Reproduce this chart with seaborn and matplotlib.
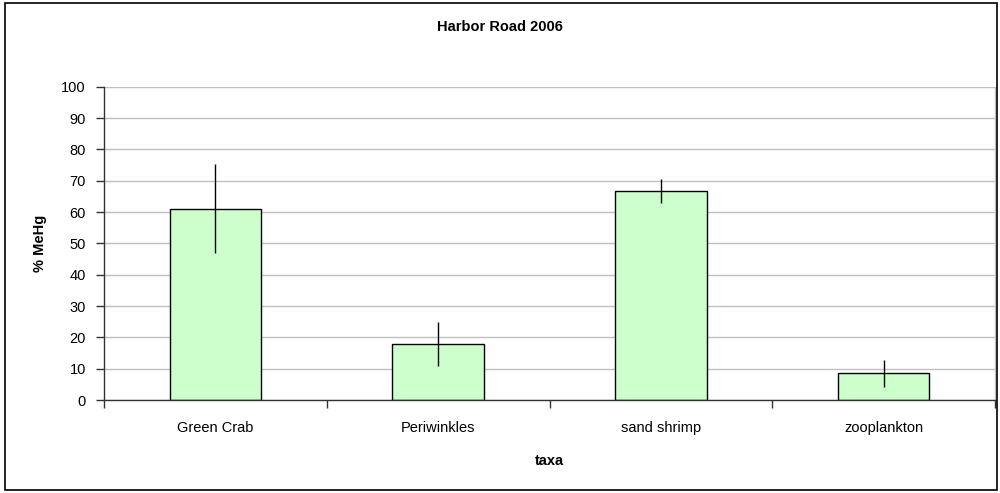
import numpy as np
import pandas as pd
import matplotlib
matplotlib.use("Agg")
import matplotlib.pyplot as plt
import seaborn as sns
from matplotlib.patches import Rectangle

# values
taxa = ["Green Crab", "Periwinkles", "sand shrimp", "zooplankton"]
pct_mehg = [61.1, 17.8, 66.7, 8.5]
err = [14.1, 7.0, 3.7, 4.3]
y_ticks = [0, 10, 20, 30, 40, 50, 60, 70, 80, 90, 100]

df = pd.DataFrame({"taxa": taxa, "pct": pct_mehg})

sns.set_theme(style="white")
plt.rcParams["font.family"] = ["Liberation Sans", "DejaVu Sans"]
plt.rcParams["text.color"] = "black"
plt.rcParams["xtick.color"] = "black"
plt.rcParams["ytick.color"] = "black"
plt.rcParams["axes.labelcolor"] = "black"

fig = plt.figure(figsize=(10, 4.93), dpi=100)
ax = fig.add_axes([0.104, 0.1886, 0.891, 0.6355])

sns.barplot(data=df, x="taxa", y="pct", color="#CCFFCC", saturation=1,
            edgecolor="black", linewidth=1, width=0.41, errorbar=None, ax=ax)
ax.errorbar(np.arange(len(taxa)), pct_mehg, yerr=err, fmt="none",
            ecolor="black", elinewidth=1, capsize=0, zorder=3)

ax.set_xlim(-0.5, len(taxa) - 0.5)
ax.set_ylim(0, 100)
ax.set_yticks(y_ticks)
ax.yaxis.grid(True, color="#C0C0C0", linewidth=1)
ax.set_axisbelow(True)

for side in ["left", "bottom"]:
    ax.spines[side].set_color("#333333")
    ax.spines[side].set_linewidth(1)
ax.spines["top"].set_visible(False)
ax.spines["right"].set_color("#C0C0C0")
ax.spines["right"].set_linewidth(1)

ax.tick_params(axis="y", direction="out", length=6, width=1, color="#333333",
               left=True, labelsize=10.5, pad=7)
ax.tick_params(axis="x", which="major", length=0, labelsize=10.5, pad=15)
ax.set_xticks(np.arange(-0.5, len(taxa)), minor=True)
ax.tick_params(axis="x", which="minor", direction="out", length=6, width=1,
               color="#333333", bottom=True)

ax.set_xlabel("taxa", fontsize=10.5, fontweight="bold", labelpad=14)
ax.set_ylabel("% MeHg", fontsize=10.5, fontweight="bold", labelpad=10)
fig.text(0.5, 0.945, "Harbor Road 2006", ha="center", va="center",
         fontsize=10.5, fontweight="bold")

# chart frame
fig.patches.append(Rectangle((0.005, 0.006), 0.992, 0.988, transform=fig.transFigure,
                             fill=False, edgecolor="black", linewidth=1.2))

fig.savefig("out.png", dpi=100, facecolor="white")
